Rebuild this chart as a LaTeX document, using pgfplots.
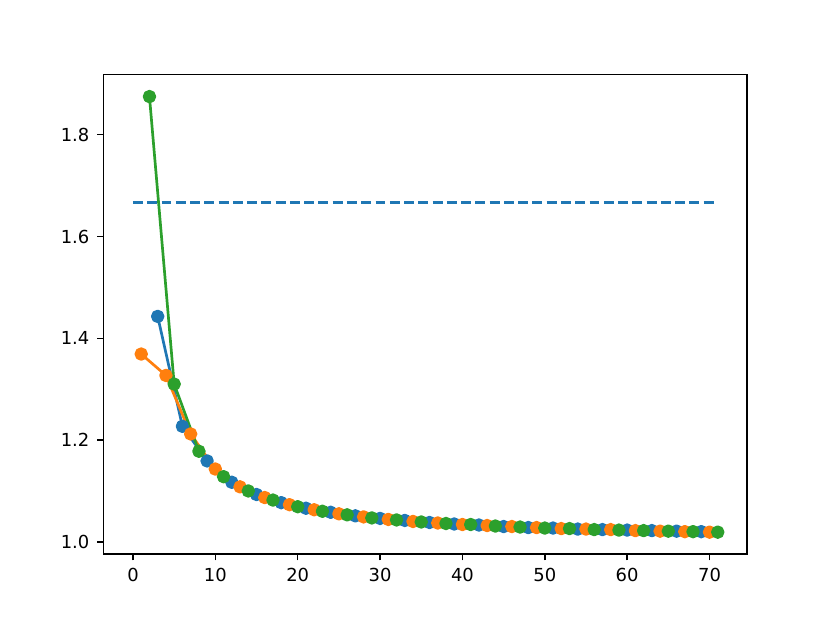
\documentclass[border=0pt]{standalone}
\usepackage{fontspec}
\setmainfont{DejaVu Sans}
\usepackage{pgfplots}
\pgfplotsset{compat=1.18}
\definecolor{c0}{HTML}{1F77B4}
\definecolor{c1}{HTML}{FF7F0E}
\definecolor{c2}{HTML}{2CA02C}

\begin{document}
\begin{tikzpicture}
\useasboundingbox (0,0) rectangle (460.8bp,345.6bp);
\begin{axis}[
    at={(57.6bp,38.016bp)}, anchor=south west,
    scale only axis, width=357.12bp, height=266.11bp,
    xmin=-3.55, xmax=74.55, ymin=0.976, ymax=1.918,
    xtick={0,10,...,70}, ytick={1.0,1.2,1.4,1.6,1.8},
    yticklabel style={/pgf/number format/fixed, /pgf/number format/precision=1, /pgf/number format/fixed zerofill},
    /pgf/number format/assume math mode=true,
    tick label style={font=\fontsize{10}{12}\selectfont},
    xtick pos=left, ytick pos=left, tick align=outside,
    major tick length=3.5pt,
    every tick/.style={black, line width=0.8pt},
    axis line style={line width=0.8pt},
    xticklabel style={yshift=-1pt}, yticklabel style={xshift=-1pt},
    every axis plot/.append style={line join=round, line cap=round},
    clip=false,
]
% reference level
\addplot[c0, line width=1.5pt, line cap=butt, dash pattern=on 5.55pt off 2.4pt] coordinates {(0,1.6667) (71,1.6667)};
% series starting at 3
\addplot[c0, line width=1.5pt, mark=*, mark size=3pt, mark options={fill=c0, draw=c0}] coordinates {
 (3,1.443) (6,1.227) (9,1.159) (12,1.117) (15,1.093) (18,1.077) (21,1.066) (24,1.058)
 (27,1.051) (30,1.046) (33,1.042) (36,1.038) (39,1.035) (42,1.033) (45,1.030) (48,1.028)
 (51,1.027) (54,1.025) (57,1.024) (60,1.023) (63,1.022) (66,1.021) (69,1.020)
};
% series starting at 1
\addplot[c1, line width=1.5pt, mark=*, mark size=3pt, mark options={fill=c1, draw=c1}] coordinates {
 (1,1.369) (4,1.327) (7,1.212) (10,1.143) (13,1.108) (16,1.087) (19,1.073) (22,1.063)
 (25,1.055) (28,1.049) (31,1.044) (34,1.040) (37,1.037) (40,1.034) (43,1.032) (46,1.030)
 (49,1.028) (52,1.026) (55,1.025) (58,1.024) (61,1.022) (64,1.021) (67,1.020) (70,1.019)
};
% series starting at 2
\addplot[c2, line width=1.5pt, mark=*, mark size=3pt, mark options={fill=c2, draw=c2}] coordinates {
 (2,1.875) (5,1.310) (8,1.178) (11,1.128) (14,1.100) (17,1.082) (20,1.069) (23,1.060)
 (26,1.053) (29,1.047) (32,1.043) (35,1.039) (38,1.036) (41,1.034) (44,1.031) (47,1.029)
 (50,1.027) (53,1.026) (56,1.024) (59,1.023) (62,1.022) (65,1.021) (68,1.020) (71,1.019)
};
\end{axis}
\end{tikzpicture}
\end{document}
